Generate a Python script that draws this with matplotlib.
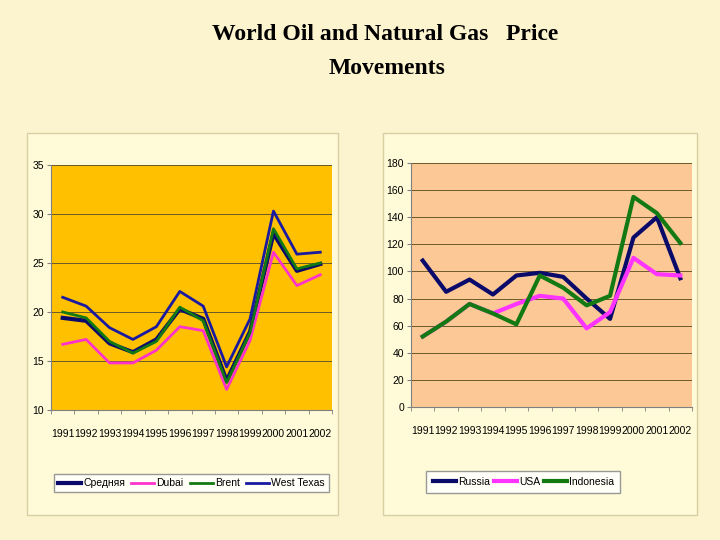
import matplotlib
matplotlib.use("Agg")
import matplotlib.pyplot as plt
from matplotlib.patches import Rectangle

years = [str(y) for y in range(1991, 2003)]
oil_avg = [19.4, 19.1, 16.8, 15.9, 17.2, 20.3, 19.3, 13.0, 18.0, 28.0, 24.2, 24.9]
oil_dubai = [16.7, 17.2, 14.8, 14.8, 16.1, 18.5, 18.1, 12.1, 17.1, 26.1, 22.7, 23.8]
oil_brent = [20.0, 19.4, 17.0, 15.8, 17.0, 20.5, 19.1, 12.8, 17.9, 28.5, 24.4, 25.0]
oil_wti = [21.5, 20.6, 18.4, 17.2, 18.5, 22.1, 20.6, 14.4, 19.3, 30.3, 25.9, 26.1]
gas_russia = [108, 85, 94, 83, 97, 99, 96, 80, 65, 125, 140, 95]
gas_usa = [52, 63, 76, 69, 76, 82, 80, 58, 70, 110, 98, 97]
gas_indonesia = [52, 63, 76, 69, 61, 97, 88, 75, 82, 155, 143, 121]

W, H = 720, 540
fig = plt.figure(figsize=(7.2, 5.4), dpi=100)
fig.patch.set_facecolor("#fcf3cf")

def px(x0, y0, x1, y1):
    return [x0 / W, 1 - y1 / H, (x1 - x0) / W, (y1 - y0) / H]

for (x0, y0, x1, y1) in [(27, 133, 338, 515), (383, 133, 697, 515)]:
    fig.patches.append(Rectangle((x0 / W, 1 - y1 / H), (x1 - x0) / W, (y1 - y0) / H,
                                 transform=fig.transFigure, facecolor="#fffbd8",
                                 edgecolor="#d8d0a0", lw=1, zorder=-5))

fig.text(0.535, 0.955, "World Oil and Natural Gas   Price", ha="center", va="top",
         family="Liberation Serif", fontsize=17, weight="bold")
fig.text(0.537, 0.893, "Movements", ha="center", va="top",
         family="Liberation Serif", fontsize=17, weight="bold")

x = list(range(12))
tfont = dict(family="Liberation Sans", fontsize=7.5)

def setup(ax, face, yl, yt):
    ax.set_facecolor(face)
    ax.set_xlim(-0.5, 11.5)
    ax.set_ylim(*yl)
    ax.set_yticks(yt)
    ax.set_xticks(x)
    ax.set_xticklabels(years, rotation=0, **tfont)
    for lab in ax.get_yticklabels():
        lab.set_family("Liberation Sans"); lab.set_fontsize(7.5)
    ax.set_xticks([i - 0.5 for i in range(13)], minor=True)
    ax.tick_params(axis="x", which="major", length=0, pad=14)
    ax.tick_params(axis="x", which="minor", length=3, color="#808080")
    ax.tick_params(axis="y", length=3, color="#808080", pad=2)
    ax.grid(axis="y", color="#6b5a2a", lw=0.7)
    ax.set_axisbelow(True)
    for s in ["top", "right"]:
        ax.spines[s].set_visible(False)
    for s in ["left", "bottom"]:
        ax.spines[s].set_color("#808080")

ax1 = fig.add_axes(px(51, 165, 332, 410))
setup(ax1, "#ffc000", (10, 35), [10, 15, 20, 25, 30, 35])
ax1.plot(x, oil_avg, color="#0a0a6a", lw=3, label="Средняя")
ax1.plot(x, oil_dubai, color="#ff33cc", lw=2, label="Dubai")
ax1.plot(x, oil_brent, color="#137a13", lw=2, label="Brent")
ax1.plot(x, oil_wti, color="#1a1aa0", lw=2, label="West Texas")
leg = ax1.legend(loc="upper center", bbox_to_anchor=(0.5, -0.24), ncol=4,
                 prop={"family": "Liberation Sans", "size": 7.5}, frameon=True,
                 fancybox=False, handlelength=2.2, columnspacing=0.6, handletextpad=0.2,
                 borderpad=0.4)
leg.get_frame().set_edgecolor("#808080")

ax2 = fig.add_axes(px(411, 163, 692, 407))
setup(ax2, "#fbc896", (0, 180), list(range(0, 181, 20)))
ax2.plot(x, gas_russia, color="#0a0a6a", lw=3, label="Russia")
ax2.plot(x, gas_usa, color="#ff33ff", lw=3, label="USA")
ax2.plot(x, gas_indonesia, color="#137a13", lw=3, label="Indonesia")
leg2 = ax2.legend(loc="upper center", bbox_to_anchor=(0.4, -0.24), ncol=3,
                  prop={"family": "Liberation Sans", "size": 7.5}, frameon=True,
                  fancybox=False, handlelength=2.2, columnspacing=0.4, handletextpad=0.2,
                  borderpad=0.6)
leg2.get_frame().set_edgecolor("#808080")

fig.savefig("out.png", dpi=100, facecolor=fig.get_facecolor())
